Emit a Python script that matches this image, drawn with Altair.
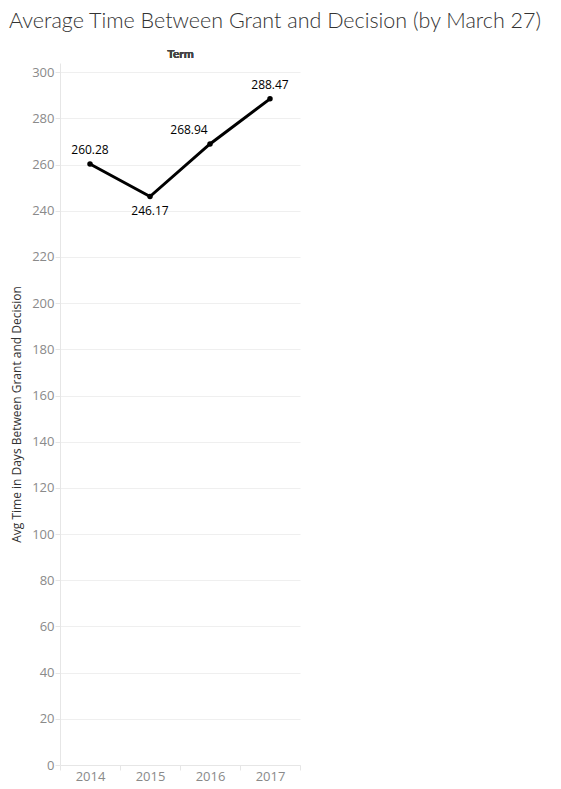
import altair as alt
import pandas as pd

terms = ["2014", "2015", "2016", "2017"]
avg_days = [260.28, 246.17, 268.94, 288.47]
y_ticks = list(range(0, 301, 20))

df = pd.DataFrame({"Term": terms, "Avg": avg_days})

FONT = "Open Sans"
GRAY = "#8a8a8a"

x_bottom = alt.X(
    "Term:O", sort=terms, title=None,
    scale=alt.Scale(type="band", paddingInner=0, paddingOuter=0),
    axis=alt.Axis(orient="bottom", labelAngle=0, labelColor=GRAY, labelFontSize=13,
                  labelFont=FONT, domainColor="#e6e6e6", tickColor="#e6e6e6",
                  tickBand="extent", tickSize=5, labelPadding=0, grid=False),
)
x_top = alt.X(
    "Term:O", sort=terms, title="Term",
    scale=alt.Scale(type="band", paddingInner=0, paddingOuter=0),
    axis=alt.Axis(orient="top", labels=False, ticks=False, domain=False, grid=False,
                  titleFont="Lato", titleFontSize=12, titleFontWeight="bold",
                  titleColor="#444444", titlePadding=3),
)
y = alt.Y(
    "Avg:Q", title="Avg Time in Days Between Grant and Decision",
    scale=alt.Scale(domain=[0, 304], nice=False, zero=True),
    axis=alt.Axis(values=y_ticks, labelColor=GRAY, labelFontSize=13, labelFont=FONT,
                  gridColor="#efefef", domainColor="#e6e6e6", tickColor="#e6e6e6",
                  tickSize=5, labelPadding=1, titleFont=FONT, titleFontSize=12,
                  titleFontWeight="normal", titleColor="#333333", titlePadding=8),
)

line = alt.Chart(df).mark_line(color="black", strokeWidth=3).encode(x=x_bottom, y=y)
pts = alt.Chart(df).mark_point(filled=True, color="black", size=30, opacity=1).encode(
    x=x_top, y=y)

txt_kw = dict(font=FONT, fontSize=12, color="black")
lab_above = alt.Chart(df).transform_filter(
    alt.FieldOneOfPredicate(field="Term", oneOf=["2014", "2017"])
).mark_text(dy=-14, **txt_kw).encode(x=x_top, y=y, text=alt.Text("Avg:Q", format=".2f"))
lab_below = alt.Chart(df).transform_filter(
    alt.FieldOneOfPredicate(field="Term", oneOf=["2015"])
).mark_text(dy=14, **txt_kw).encode(x=x_top, y=y, text=alt.Text("Avg:Q", format=".2f"))
lab_left = alt.Chart(df).transform_filter(
    alt.FieldOneOfPredicate(field="Term", oneOf=["2016"])
).mark_text(dy=-14, dx=-21, **txt_kw).encode(x=x_top, y=y, text=alt.Text("Avg:Q", format=".2f"))

chart = alt.layer(line, pts, lab_above, lab_below, lab_left).resolve_axis(
    x="independent"
).properties(
    width=240,
    height=702,
    autosize=alt.AutoSizeParams(type="none"),
    padding={"left": 52, "top": 55, "right": 250, "bottom": 18},
    title=alt.TitleParams(
        "Average Time Between Grant and Decision (by March 27)",
        anchor="start", frame="group", font="Lato", fontSize=21.5, fontWeight=300,
        color="#333333", dx=-51, offset=15,
    ),
).configure_view(stroke=None)

chart.save("out.html", embed_options={"renderer": "svg", "actions": False})
